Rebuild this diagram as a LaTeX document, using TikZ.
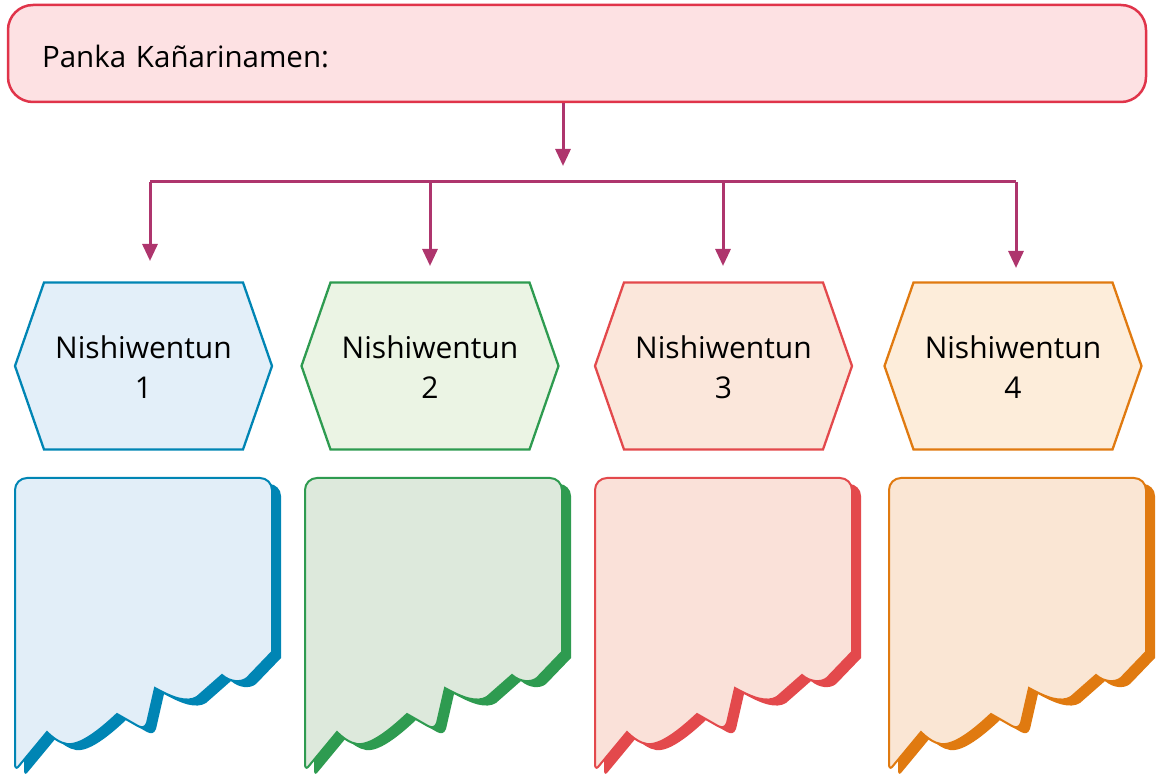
\documentclass[tikz,border=0pt]{standalone}
\usepackage{fontspec}
\setmainfont{Open Sans}
\usetikzlibrary{arrows.meta,positioning}

\definecolor{titleline}{HTML}{E0344A}
\definecolor{titlefill}{HTML}{FDE1E3}
\definecolor{linkcol}{HTML}{AE356D}
\definecolor{blueline}{HTML}{0085B4}
\definecolor{bluehex}{HTML}{E3EFF9}
\definecolor{bluecard}{HTML}{E2EEF8}
\definecolor{greenline}{HTML}{2E9B50}
\definecolor{greenhex}{HTML}{EBF4E4}
\definecolor{greencard}{HTML}{DDE9DC}
\definecolor{redline}{HTML}{E3494C}
\definecolor{redhex}{HTML}{FBE7DB}
\definecolor{redcard}{HTML}{FAE1D9}
\definecolor{orangeline}{HTML}{E07A10}
\definecolor{orangehex}{HTML}{FDEDDA}
\definecolor{orangecard}{HTML}{FAE6D4}

\tikzset{
  hexa/.pic={
    \path[pic actions] (-128.5,0) -- (-99.5,-83.5) -- (99.5,-83.5) -- (128.5,0)
      -- (99.5,83.5) -- (-99.5,83.5) -- cycle;
  },
  torncard/.pic={
    \path[pic actions] (0,150) [rounded corners=12pt] -- (0,0) -- (257,0) -- (257,150)
      [sharp corners] -- (257,174) -- (232,200) .. controls (226,205) and (215,204) .. (207,197)
      -- (182,219) .. controls (172,225) and (158,220) .. (140,210)
      -- (132,245) .. controls (130,250) and (127,250) .. (123,248)
      -- (102,236) .. controls (85,252) and (65,268) .. (52,266)
      .. controls (45,265) and (38,260) .. (32,254)
      -- (3,289) .. controls (1,291) and (0,289) .. (0,286) -- cycle;
  }
}

\begin{document}
\begin{tikzpicture}[x=1pt, y=-1pt,
    titlebox/.style={rectangle, draw=titleline, fill=titlefill, line width=2.5pt, rounded corners=25pt,
      text width=1070pt, inner xsep=34pt, inner ysep=0pt, minimum height=97pt, align=left,
      text height=28pt, text depth=0pt, font=\fontsize{29.5}{34}\selectfont},
    hextext/.style={align=center, font=\fontsize{30}{40}\selectfont},
    line/.style={draw=linkcol, line width=3pt},
    arrow/.style={line, -{Triangle[width=15pt,length=17pt]}}]
    \useasboundingbox (0,0) rectangle (1160,775);

    \node[titlebox] (title) at (577,53.5) {Panka Kañarinamen:};

    % bus between title and the four columns
    \coordinate (split) at (563,166);
    \coordinate (bus1) at (150,182);
    \coordinate (bus2) at (430,182);
    \coordinate (bus3) at (723,182);
    \coordinate (bus4) at (1016,182);
    \coordinate (end1) at (150,261);
    \coordinate (end2) at (430,266);
    \coordinate (end3) at (723,266);
    \coordinate (end4) at (1016,268);

    \draw[arrow] (title.south -| split) -- (split);
    \draw[line] (bus1) -- (bus4);
    \draw[arrow] (bus1) -- (end1);
    \draw[arrow] (bus2) -- (end2);
    \draw[arrow] (bus3) -- (end3);
    \draw[arrow] (bus4) -- (end4);

    % hexagons
    \pic[draw=blueline, fill=bluehex, line width=2.3pt] at (143.5,366) {hexa};
    \node[hextext] (hex1) at (143.5,367) {Nishiwentun\\1};
    \pic[draw=greenline, fill=greenhex, line width=2.3pt] at (430,366) {hexa};
    \node[hextext] (hex2) at (430,367) {Nishiwentun\\2};
    \pic[draw=redline, fill=redhex, line width=2.3pt] at (723.5,366) {hexa};
    \node[hextext] (hex3) at (723.5,367) {Nishiwentun\\3};
    \pic[draw=orangeline, fill=orangehex, line width=2.3pt] at (1013,366) {hexa};
    \node[hextext] (hex4) at (1013,367) {Nishiwentun\\4};

    % torn cards with shadow
    \pic[fill=blueline] at (24,484) {torncard};
    \pic[draw=blueline, fill=bluecard, line width=2pt] at (15,478) {torncard};
    \pic[fill=greenline] at (314,484) {torncard};
    \pic[draw=greenline, fill=greencard, line width=2pt] at (305,478) {torncard};
    \pic[fill=redline] at (604,484) {torncard};
    \pic[draw=redline, fill=redcard, line width=2pt] at (595,478) {torncard};
    \pic[fill=orangeline] at (898,484) {torncard};
    \pic[draw=orangeline, fill=orangecard, line width=2pt] at (889,478) {torncard};
\end{tikzpicture}
\end{document}
